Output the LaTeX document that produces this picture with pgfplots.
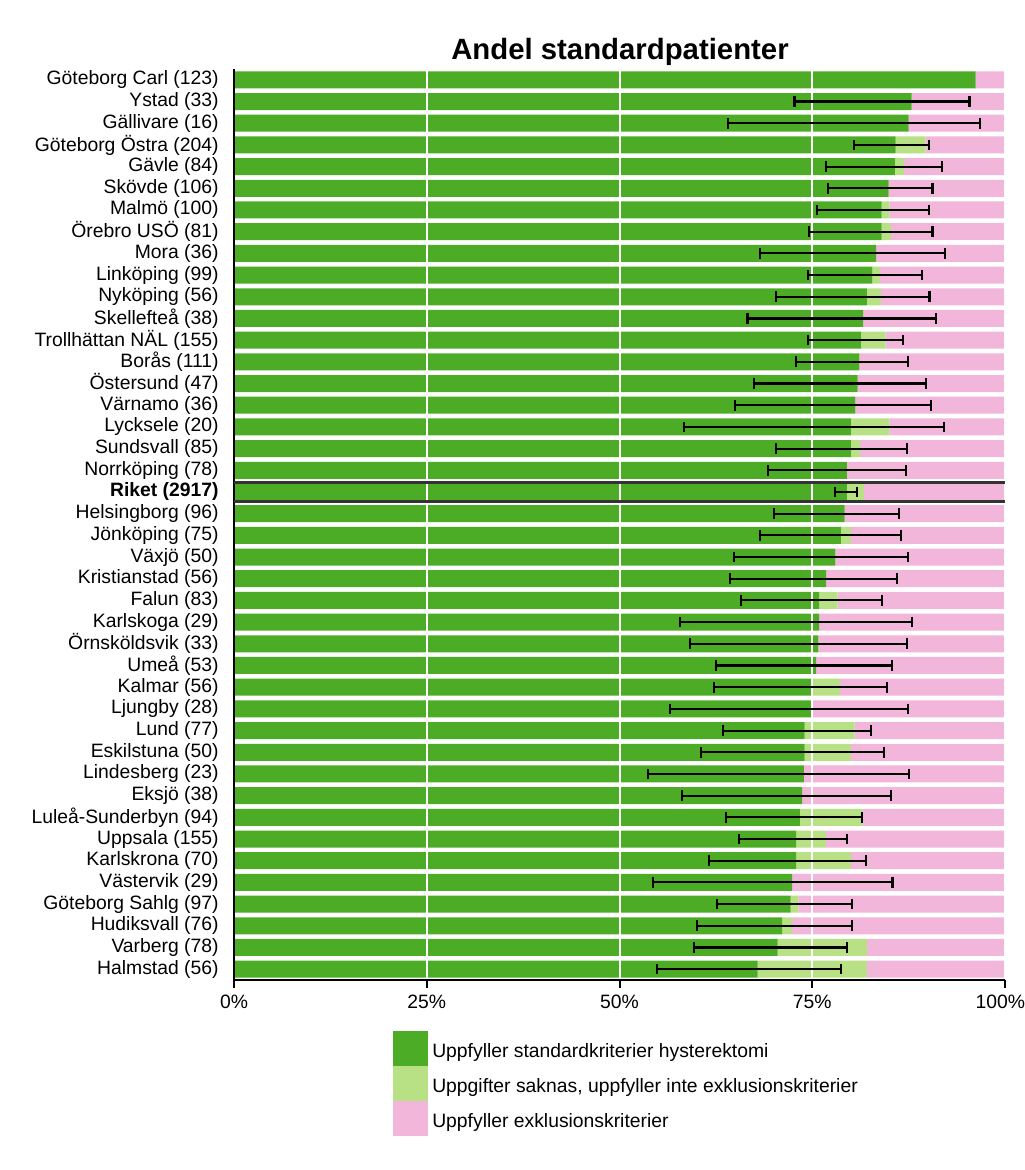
\documentclass[border=0pt]{standalone}
\usepackage{fontspec}
\setmainfont{Liberation Sans}
\usepackage{pgfplots}
\pgfplotsset{compat=1.18}
\usepackage{pgfplotstable}
\definecolor{cg}{HTML}{4DAC26}
\definecolor{cl}{HTML}{B8E186}
\definecolor{cp}{HTML}{F1B6DA}
\definecolor{sepc}{HTML}{333333}

\pgfplotstableread{
idx g l p
0 96.2 0 3.8
1 87.9 0 12.1
2 87.5 0 12.5
3 85.8 3.9 10.3
4 85.7 1.2 13.1
5 84.9 0 15.1
6 84.0 1.0 15.0
7 84.0 1.2 14.8
8 83.3 0 16.7
9 82.8 1.0 16.2
10 82.1 1.8 16.1
11 81.6 0 18.4
12 81.3 3.2 15.5
13 81.1 0 18.9
14 80.9 0 19.1
15 80.6 0 19.4
16 80.0 5.0 15.0
17 80.0 1.2 18.8
18 79.5 0 20.5
19 79.5 2.2 18.3
20 79.2 0 20.8
21 78.7 1.3 20.0
22 78.0 0 22.0
23 76.8 0 23.2
24 75.9 2.4 21.7
25 75.9 0 24.1
26 75.8 0 24.2
27 75.5 0 24.5
28 75.0 3.6 21.4
29 75.0 0 25.0
30 74.0 6.5 19.5
31 74.0 6.0 20.0
32 73.9 0 26.1
33 73.7 0 26.3
34 73.4 8.1 18.5
35 72.9 3.9 23.2
36 72.9 7.1 20.0
37 72.4 0 27.6
38 72.2 1.0 26.8
39 71.1 1.3 27.6
40 70.5 11.6 17.9
41 67.9 14.2 17.9
}\bardata

\pgfplotstableread{
idx g lo hi
1 87.9 72.7 95.4
2 87.5 64.1 96.7
3 85.8 80.4 90.1
4 85.7 76.8 91.8
5 84.9 77.0 90.6
6 84.0 75.6 90.1
7 84.0 74.6 90.6
8 83.3 68.2 92.2
9 82.8 74.4 89.2
10 82.1 70.3 90.2
11 81.6 66.6 91.0
12 81.3 74.5 86.8
13 81.1 72.9 87.4
14 80.9 67.5 89.7
15 80.6 65.0 90.4
16 80.0 58.4 92.1
17 80.0 70.3 87.3
18 79.5 69.3 87.2
19 79.5 78.0 80.8
20 79.2 70.0 86.3
21 78.7 68.2 86.5
22 78.0 64.9 87.4
23 76.8 64.3 86.0
24 75.9 65.8 84.0
25 75.9 57.9 87.9
26 75.8 59.1 87.3
27 75.5 62.5 85.3
28 75.0 62.3 84.7
29 75.0 56.6 87.4
30 74.0 63.4 82.6
31 74.0 60.6 84.3
32 73.9 53.7 87.6
33 73.7 58.1 85.2
34 73.4 63.8 81.5
35 72.9 65.5 79.5
36 72.9 61.6 82.0
37 72.4 54.4 85.4
38 72.2 62.6 80.2
39 71.1 60.1 80.2
40 70.5 59.7 79.5
41 67.9 54.9 78.7
}\errdata

\begin{document}
\begin{tikzpicture}
\begin{axis}[
  at={(0,0)}, anchor=south west,
  scale only axis, width=578.25pt, height=683.25pt,
  xmin=0, xmax=100, ymin=-0.5, ymax=41.5, y dir=reverse,
  xbar stacked, bar width=12.75pt,
  axis x line*=bottom, axis y line*=left,
  axis line style={black, line width=1.5pt, -},
  xtick={0,25,50,75,100},
  xticklabels={0\%,25\%,50\%,75\%,\kern-7pt 100\%},
  tick align=outside, major tick length=6pt,
  x tick style={black, line width=1.5pt},
  y tick style={draw=none},
  ytick={0,...,41},
  yticklabels={G\"oteborg Carl (123),Ystad (33),G\"allivare (16),G\"oteborg \"Ostra (204),G\"avle (84),Sk\"ovde (106),Malm\"o (100),\"Orebro US\"O (81),Mora (36),Link\"oping (99),Nyk\"oping (56),Skellefte\aa{} (38),Trollh\"attan N\"AL (155),Bor\aa s (111),\"Ostersund (47),V\"arnamo (36),Lycksele (20),Sundsvall (85),Norrk\"oping (78),{\textbf{Riket (2917)}},Helsingborg (96),J\"onk\"oping (75),V\"axj\"o (50),Kristianstad (56),Falun (83),Karlskoga (29),\"Ornsk\"oldsvik (33),Ume\aa{} (53),Kalmar (56),Ljungby (28),Lund (77),Eskilstuna (50),Lindesberg (23),Eksj\"o (38),Lule\aa-Sunderbyn (94),Uppsala (155),Karlskrona (70),V\"astervik (29),G\"oteborg Sahlg (97),Hudiksvall (76),Varberg (78),Halmstad (56)},
  tick label style={font=\fontsize{14.5}{17}\selectfont},
  xticklabel style={yshift=-2pt},
  yticklabel style={xshift=-2pt},
  xmajorgrids, grid style={white, line width=1.5pt},
  axis on top,
  legend cell align=left,
  legend style={at={(0.2062,-0.056)}, anchor=north west, draw=none, fill=none,
    inner sep=0pt, row sep=0pt, column sep=3pt,
    font=\fontsize{14.5}{17}\selectfont, nodes={inner sep=0pt}},
]
\addplot[fill=cg, draw=none, legend image code/.code={\fill[cg] (0pt,-11.1pt) rectangle (26.25pt,15.15pt);}] table[x=g, y=idx] {\bardata};
\addlegendentry{Uppfyller standardkriterier hysterektomi}
\addplot[fill=cl, draw=none, legend image code/.code={\fill[cl] (0pt,-11.1pt) rectangle (26.25pt,15.15pt);}] table[x=l, y=idx] {\bardata};
\addlegendentry{Uppgifter saknas, uppfyller inte exklusionskriterier}
\addplot[fill=cp, draw=none, legend image code/.code={\fill[cp] (0pt,-11.1pt) rectangle (26.25pt,15.15pt);}] table[x=p, y=idx] {\bardata};
\addlegendentry{Uppfyller exklusionskriterier}
\end{axis}
\begin{axis}[
  at={(0,0)}, anchor=south west,
  scale only axis, width=578.25pt, height=683.25pt,
  xmin=0, xmax=100, ymin=-0.5, ymax=41.5, y dir=reverse,
  hide axis,
]
\draw[sepc, line width=2pt] (axis cs:0,18.57) -- (axis cs:100,18.57);
\draw[sepc, line width=2pt] (axis cs:0,19.43) -- (axis cs:100,19.43);
\addplot[draw=none, mark=none, forget plot,
  error bars/.cd, x dir=both, x explicit,
  error bar style={draw=black, line width=1.6pt, solid},
  error mark options={draw=black, line width=1.6pt, mark size=4pt, rotate=90}]
  table[x=g, y=idx, x error plus expr=\thisrow{hi}-\thisrow{g}, x error minus expr=\thisrow{g}-\thisrow{lo}] {\errdata};
\end{axis}
\node[anchor=base, font=\bfseries\fontsize{22}{26}\selectfont] at (289.5pt,690.5pt) {Andel standardpatienter};
\pgfresetboundingbox
\useasboundingbox (-175.5pt,-142.5pt) rectangle (592.5pt,735pt);
\end{tikzpicture}
\end{document}
